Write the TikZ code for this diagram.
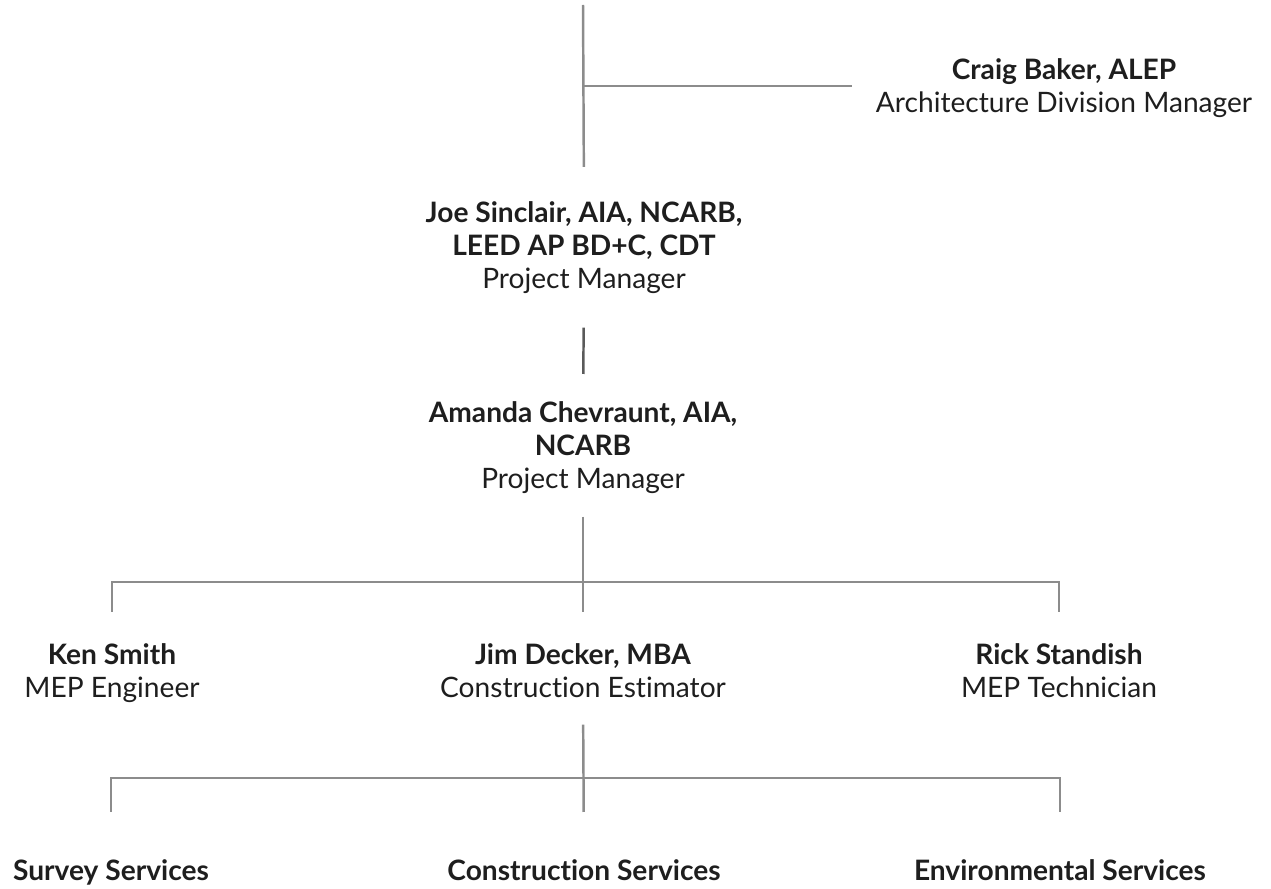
\documentclass[tikz,border=0pt]{standalone}
\usepackage{fontspec}
\setmainfont{Lato}[Ligatures=NoCommon]
\definecolor{ink}{HTML}{1E1E1E}
\definecolor{rule}{HTML}{8C8C8C}
\definecolor{darkrule}{HTML}{5A5A5A}
\begin{document}
\begin{tikzpicture}[x=0.01cm, y=-0.01cm,
  person/.style={inner sep=0pt, align=center, anchor=north, text=ink, font=\fontsize{8}{9.4}\selectfont},
  link/.style={draw=rule, line width=0.7pt}]
\useasboundingbox (0,0) rectangle (1271,888);

% Draw the people
\node[person] (craig) at (1064,58) {\textbf{Craig Baker, ALEP}\\Architecture Division Manager};
\node[person] (joe) at (584,201) {\textbf{Joe Sinclair, AIA, NCARB,}\\\textbf{LEED AP BD+C, CDT}\\Project Manager};
\node[person] (amanda) at (583,401) {\textbf{Amanda Chevraunt, AIA,}\\\textbf{NCARB}\\Project Manager};
\node[person] (ken) at (112,643) {\textbf{Ken Smith}\\MEP Engineer};
\node[person] (jim) at (583,643) {\textbf{Jim Decker, MBA}\\Construction Estimator};
\node[person] (rick) at (1059,643) {\textbf{Rick Standish}\\MEP Technician};

% Draw the services
\node[person] (survey) at (111,859) {\textbf{Survey Services}};
\node[person] (construction) at (584,859) {\textbf{Construction Services}};
\node[person] (environ) at (1060,859) {\textbf{Environmental Services}};

% Draw the top line and the tee
\coordinate (top) at (583,5);
\coordinate (tee) at (583,86);
\draw[link, shorten >=0.34cm] (top) -- (joe.north);
\draw[link, shorten >=0.23cm] (tee) -- (tee -| craig.west);
\draw[link, draw=darkrule, shorten <=0.33cm, shorten >=0.27cm] (joe.south) -- (amanda.north);

% Draw the first bus
\coordinate (busA) at (583,582);
\draw[link, shorten <=0.22cm, shorten >=0.31cm] (amanda.south) -- (jim.north);
\draw[link, shorten <=0.31cm, shorten >=0.31cm] (ken.north) -- (ken.north |- busA) -- (rick.north |- busA) -- (rick.north);

% Draw the second bus
\coordinate (busB) at (583,778);
\draw[link, shorten <=0.26cm, shorten >=0.47cm] (jim.south) -- (construction.north);
\draw[link, shorten <=0.47cm, shorten >=0.47cm] (survey.north) -- (survey.north |- busB) -- (environ.north |- busB) -- (environ.north);
\end{tikzpicture}
\end{document}
